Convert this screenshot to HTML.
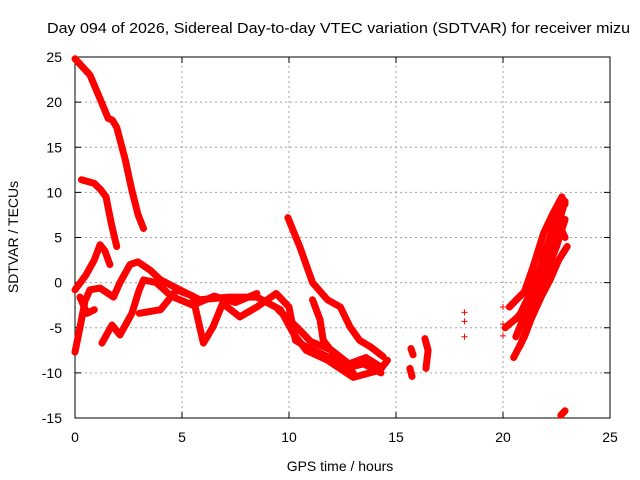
<!DOCTYPE html>
<html><head><meta charset="utf-8"><style>
body{margin:0;background:#fff;}
svg{display:block;font-family:"Liberation Sans",sans-serif;}
</style></head><body>
<svg id="chart" width="640" height="480">
<text x="47" y="33" font-size="15" textLength="583" lengthAdjust="spacingAndGlyphs" fill="#000">Day 094 of 2026, Sidereal Day-to-day VTEC variation (SDTVAR) for receiver mizu</text>
<g id="grid"></g><g id="axes"></g><g id="marks"></g>
<text x="340" y="471" font-size="14" text-anchor="middle">GPS time / hours</text>
<text transform="translate(18,237) rotate(-90)" font-size="14" text-anchor="middle">SDTVAR / TECUs</text>
</svg>
<script>
const xTicks=[0,5,10,15,20,25];
const yTicks=[25,20,15,10,5,0,-5,-10,-15];
const trackA=[[0,24.8],[0.7,23],[1.2,20.2],[1.55,18.2],[1.75,18],[1.95,17.2],[2.35,13.6],[2.65,10.3],[2.95,7.5],[3.2,6]];
const trackB=[[0.3,11.4],[0.9,11],[1.2,10.3],[1.45,9.5],[1.7,6.5],[1.95,4]];
const trackC=[[0,-0.8],[0.5,0.8],[0.9,2.5],[1.17,4.2],[1.4,3.5],[1.63,2]];
const trackD=[[0,-7.7],[0.23,-5],[0.47,-2],[0.7,-0.8],[1.17,-0.6],[1.8,-1.6],[2.1,0],[2.57,2],[2.94,2.3],[3.5,1.4],[4,0.3],[4.9,-0.8],[5.84,-1.9],[7.2,-1.6],[8.5,-1.6],[9.6,-3],[10.2,-5.6],[10.8,-7.5],[11.8,-8.6],[13,-10.5],[14.25,-9.7],[14.6,-8.6]];
const trackE=[[1.26,-6.7],[1.73,-4.7],[2.1,-5.8],[2.66,-3.4],[3,-0.8],[3.2,0.3],[3.8,0],[4.5,-1.5],[5.5,-2.5],[6.5,-1.5],[7.5,-2.2],[8.5,-1.2]];
const trackF=[[0.23,-1.6],[0.56,-3.4],[0.9,-3]];
const trackG=[[3,-3.4],[4,-3],[4.75,-0.8],[5.5,-1.5],[6,-6.7],[6.45,-4.9],[6.9,-2.3],[7.7,-3.8],[8.5,-2.7],[9.4,-1.2],[10,-2.7],[10.3,-6.4],[10.8,-7.1],[11.8,-8.2],[12.6,-9.5],[13.5,-9],[14.3,-10]];
const trackH=[[9.95,7.2],[10.5,4],[11.1,0],[11.8,-1.9],[12.4,-2.7],[12.85,-4.9],[13.3,-6.4],[13.8,-7.1],[14.4,-8.2]];
const trackI=[[11.1,-1.9],[11.45,-4.1],[11.6,-6.4],[12.2,-8.2],[13,-10]];
const trackM=[[9.5,-3],[10.4,-5],[11,-6.5],[12,-7.5],[12.8,-9],[13.6,-8.3],[14.2,-9.2]];
const trackJ=[[15.7,-7.3],[15.8,-8]];
const trackK=[[15.65,-9.5],[15.75,-10.4]];
const trackL=[[16.35,-6.2],[16.5,-7.5],[16.4,-9.5]];
const trackR1=[[20.3,-2.7],[21,-1],[21.4,1.7],[21.9,5.5],[22.3,7.5],[22.75,9.5],[22.9,8.7]];
const trackR2=[[20.5,-8.3],[21,-6],[21.3,-4.1],[21.8,-1.5],[22.2,0.3],[22.6,2.5],[23,4]];
const trackR3=[[20.6,-6],[21.2,-2.5],[21.6,0],[22,2.5],[22.4,5],[22.9,9]];
const trackR4=[[20.7,-4],[21.3,-1],[21.8,2],[22.2,4],[22.7,6],[22.9,5]];
const trackR5=[[20.1,-5],[20.6,-4],[21,-3]];
const trackR7=[[20.8,-7],[21.2,-4.5],[21.6,-2],[22,1],[22.5,4],[22.9,7]];
const trackR8=[[21,-3],[21.5,-0.5],[21.9,3],[22.4,6.5],[22.8,8.5]];
const trackR6=[[22.7,-14.7],[22.9,-14.2]];
const pointsX=[18.2,18.2,18.2,20,20,20];
const pointsY=[-3.3,-4.3,-6,-2.7,-4.6,-5.9];
const tracks=[trackA,trackB,trackC,trackD,trackE,trackF,trackG,trackH,trackI,trackM,trackJ,trackK,trackL,trackR1,trackR2,trackR3,trackR4,trackR5,trackR7,trackR8,trackR6];

const X0=75,X1=610,Y0=418,Y1=57;
const xs=v=>X0+(v-0)/(25-0)*(X1-X0);
const ys=v=>Y0-(v+15)/(40)*(Y0-Y1);
const NS='http://www.w3.org/2000/svg';
function mk(t,p,a){const e=document.createElementNS(NS,t);for(const k in a)e.setAttribute(k,a[k]);p.appendChild(e);return e;}
const grid=document.getElementById('grid'),axes=document.getElementById('axes'),marks=document.getElementById('marks');
xTicks.forEach(t=>{
  if(t>0&&t<25){const l=mk('line',grid,{x1:xs(t),x2:xs(t),y1:Y0,y2:Y1,stroke:'#a0a0a0','stroke-dasharray':'2,3'});
  
  }
  mk('line',axes,{x1:xs(t),x2:xs(t),y1:Y0,y2:Y0-6,stroke:'#000'});
  mk('line',axes,{x1:xs(t),x2:xs(t),y1:Y1,y2:Y1+6,stroke:'#000'});
  const tx=mk('text',axes,{x:xs(t),y:Y0+24,'font-size':14,'text-anchor':'middle'});tx.textContent=t;
  
  
});
yTicks.forEach(t=>{
  if(t>-15&&t<25){const l=mk('line',grid,{x1:X0,x2:X1,y1:ys(t),y2:ys(t),stroke:'#a0a0a0','stroke-dasharray':'2,3'});
  
  }
  mk('line',axes,{x1:X0,x2:X0+6,y1:ys(t),y2:ys(t),stroke:'#000'});
  mk('line',axes,{x1:X1,x2:X1-6,y1:ys(t),y2:ys(t),stroke:'#000'});
  const tx=mk('text',axes,{x:X0-13,y:ys(t)+5,'font-size':14,'text-anchor':'end'});tx.textContent=t;
  
  
});
const frame=mk('rect',axes,{x:X0,y:Y1,width:X1-X0,height:Y0-Y1,fill:'none',stroke:'#000'});


function plus(x,y){const g=mk('path',marks,{d:`M${x-3},${y}h6M${x},${y-3}v6`,stroke:'#f00','stroke-width':1});
  
  }
tracks.forEach((tr,i)=>{
  const p=mk('polyline',marks,{points:tr.map(d=>xs(d[0])+','+ys(d[1])).join(' '),fill:'none',stroke:'#f00','stroke-width':7,'stroke-linejoin':'round','stroke-linecap':'round'});
  
  
  tr.forEach(d=>plus(xs(d[0]),ys(d[1])));
});
pointsX.forEach((v,i)=>plus(xs(v),ys(pointsY[i])));
</script>
</body></html>
